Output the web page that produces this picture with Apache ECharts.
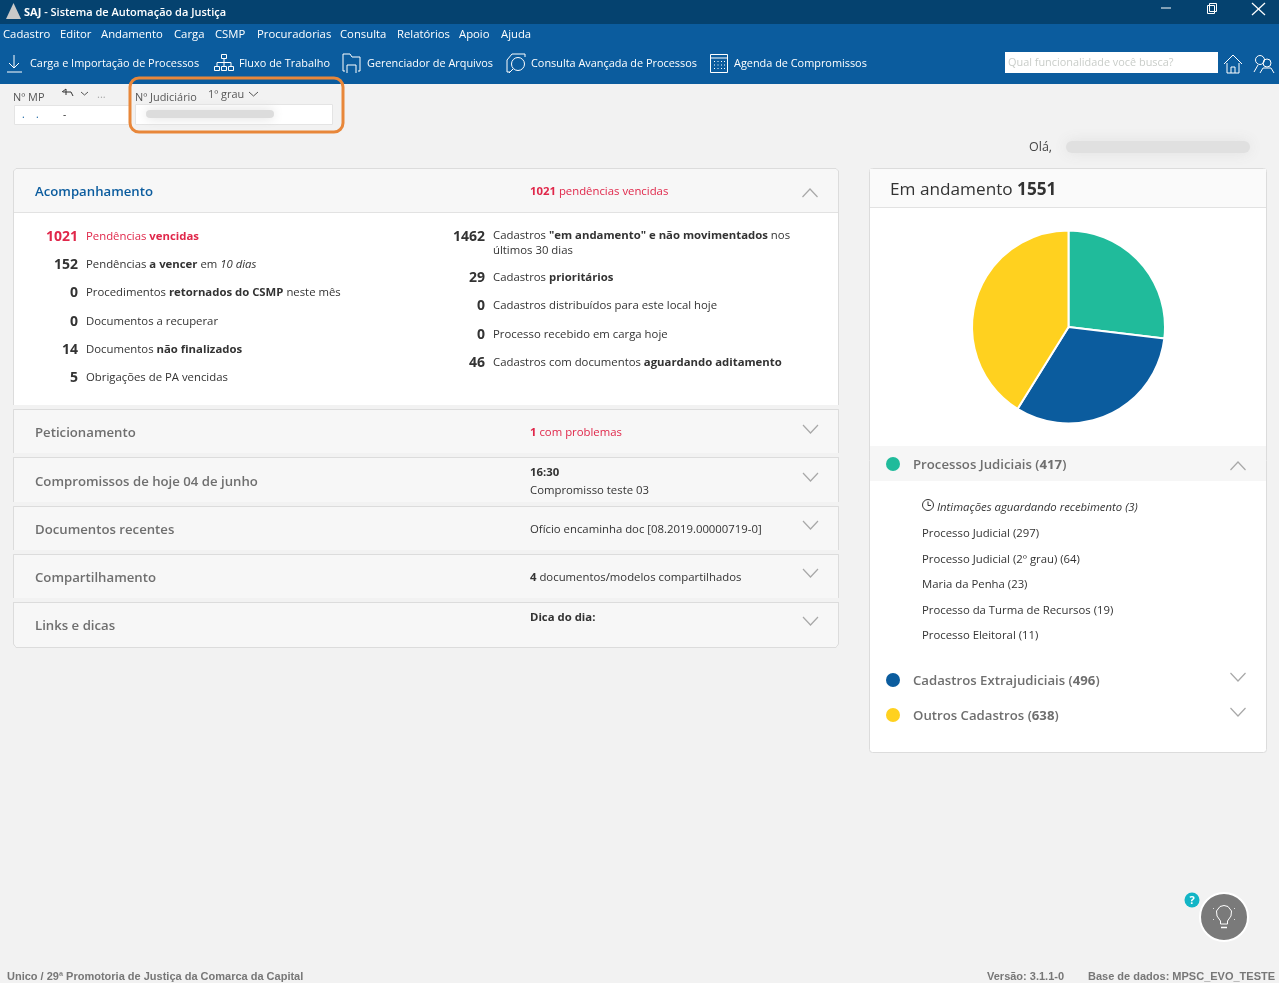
<!DOCTYPE html>
<html>
<head>
<meta charset="utf-8">
<title>SAJ</title>
<style>
  html, body { margin: 0; padding: 0; background: #f2f2f2; }
  #main { width: 1279px; height: 983px; }
</style>
<script src="https://cdn.jsdelivr.net/npm/echarts@6/dist/echarts.min.js"></script>
</head>
<body>
<div id="main"></div>
<script>
// dados do gráfico
const categories = ['Processos Judiciais', 'Cadastros Extrajudiciais', 'Outros Cadastros'];
const values = [417, 496, 638];
const colors = ['#20bb9b', '#0b5c9e', '#ffd11f'];

const menuItems = ['Cadastro', 'Editor', 'Andamento', 'Carga', 'CSMP', 'Procuradorias', 'Consulta', 'Relatórios', 'Apoio', 'Ajuda'];
const menuX = [3, 60, 101, 174, 215, 257, 340, 397, 459, 501];
const toolItems = ['Carga e Importação de Processos', 'Fluxo de Trabalho', 'Gerenciador de Arquivos', 'Consulta Avançada de Processos', 'Agenda de Compromissos'];
const toolX = [30, 239, 367, 531, 734];

const leftCounts = ['152', '0', '0', '14', '5'];
const leftLabels = ['Pendências {b|a vencer} em {i|10 dias}', 'Procedimentos {b|retornados do CSMP} neste mês', 'Documentos a recuperar', 'Documentos {b|não finalizados}', 'Obrigações de PA vencidas'];
const leftY = [264, 292, 321, 349, 377];

const rightCounts = ['29', '0', '0', '46'];
const rightLabels = ['Cadastros {b|prioritários}', 'Cadastros distribuídos para este local hoje', 'Processo recebido em carga hoje', 'Cadastros com documentos {b|aguardando aditamento}'];
const rightY = [277, 305, 334, 362];

const subItems = ['Processo Judicial (297)', 'Processo Judicial (2º grau) (64)', 'Maria da Penha (23)', 'Processo da Turma de Recursos (19)', 'Processo Eleitoral (11)'];
const subY = [533, 559, 584, 610, 635];

const FONT = '"Open Sans", "Noto Sans", sans-serif';
const DARK = '#333333';
const RED = '#e0274a';
const GREY = '#6f6f6f';
const BODY = 11.35;
const NUM = 14;

function text(x, y, str, size, fill, opts) {
  opts = opts || {};
  const weight = opts.weight || 'normal';
  const fam = opts.family || FONT;
  return {
    type: 'text', x: x, y: y, silent: true,
    style: {
      text: str,
      fill: fill,
      align: opts.align || 'left',
      verticalAlign: 'middle',
      font: (opts.italic ? 'italic ' : '') + weight + ' ' + size + 'px ' + fam,
      rich: {
        b: { font: 'bold ' + size + 'px ' + fam, fill: opts.richFill || fill },
        i: { font: 'italic normal ' + size + 'px ' + fam, fill: fill },
        n: { font: 'normal ' + size + 'px ' + fam, fill: fill }
      }
    }
  };
}
function box(x, y, w, h, fill, stroke, r) {
  return {
    type: 'rect', silent: true,
    shape: { x: x, y: y, width: w, height: h, r: r || 0 },
    style: { fill: fill, stroke: stroke || null, lineWidth: stroke ? 1 : 0 }
  };
}
function line(points, color, width) {
  return { type: 'polyline', silent: true, shape: { points: points }, style: { stroke: color, lineWidth: width || 1, fill: null } };
}
function dot(x, y, r, fill, stroke, width) {
  return { type: 'circle', silent: true, shape: { cx: x, cy: y, r: r }, style: { fill: fill, stroke: stroke || null, lineWidth: width || 0 } };
}
function blur(x, y, w, h, color, amount) {
  return { type: 'rect', silent: true, shape: { x: x, y: y, width: w, height: h, r: h / 2 },
    style: { fill: color, shadowColor: color, shadowBlur: amount || 14 } };
}
function chevron(x, y, up, color) {
  const d = up ? -1 : 1;
  return line([[x - 7.5, y - d * 4], [x, y + d * 4], [x + 7.5, y - d * 4]], color || '#a8a8a8', 1.2);
}

const g = [];

// barras do topo
g.push(box(0, 0, 1279, 24, '#05426f'));
g.push(box(0, 24, 1279, 60, '#0b5c9e'));
g.push({ type: 'polygon', silent: true, shape: { points: [[13.5, 3], [21, 19], [6, 19]] }, style: { fill: '#c9c9c9' } });
g.push(text(24, 12.5, '{b|SAJ} - Sistema de Automação da Justiça', 11, '#ffffff', { family: '"Open Sans", sans-serif', weight: '600' }));
g.push(line([[1161, 8], [1171, 8]], '#ffffff', 1));
g.push(box(1207.5, 5.5, 7, 8, null, '#ffffff'));
g.push(box(1209.5, 3.5, 7, 8, null, '#ffffff'));
g.push(line([[1252, 3], [1265, 15]], '#ffffff', 1.2));
g.push(line([[1265, 3], [1252, 15]], '#ffffff', 1.2));

menuItems.forEach(function (m, i) { g.push(text(menuX[i], 35, m, 11.3, '#ffffff')); });
toolItems.forEach(function (m, i) { g.push(text(toolX[i], 64, m, 10.9, '#ffffff')); });

// ícones da barra
g.push(line([[14, 55], [14, 68]], '#ffffff'), line([[9, 63], [14, 68], [19, 63]], '#ffffff'), line([[7, 72], [22, 72]], '#ffffff'));
g.push(box(221.5, 54.5, 5, 4, null, '#ffffff'), box(214.5, 66.5, 5, 4, null, '#ffffff'), box(221.5, 66.5, 5, 4, null, '#ffffff'), box(228.5, 66.5, 5, 4, null, '#ffffff'));
g.push(line([[224, 59], [224, 66]], '#ffffff'), line([[217, 66], [217, 62.5], [231, 62.5], [231, 66]], '#ffffff'));
g.push(line([[345, 71], [343, 71], [343, 54], [350, 54], [352, 57], [360, 57], [360, 71], [358, 71]], '#ffffff'), line([[347, 73], [347, 65], [356, 65], [356, 73]], '#ffffff'));
g.push(line([[510, 72], [507, 72], [507, 60], [512, 54], [525, 54], [525, 57]], '#ffffff'), dot(518, 64, 6.5, null, '#ffffff', 1), line([[513, 69], [509, 73]], '#ffffff'));
g.push(box(710.5, 54.5, 17, 18, null, '#ffffff'), line([[711, 58], [727, 58]], '#ffffff'));
[61, 64.5, 68].forEach(function (yy) { [714, 717.5, 721, 724].forEach(function (xx) { g.push(box(xx, yy, 1, 1, '#ffffff')); }); });
g.push(box(1005, 52, 213, 21, '#ffffff'));
g.push(text(1008, 63, 'Qual funcionalidade você busca?', 10.9, '#c9cdc9'));
g.push(line([[1224, 64], [1233, 55], [1242, 64]], '#ffffff'), line([[1227, 63], [1227, 73], [1239, 73], [1239, 63]], '#ffffff'), line([[1231, 73], [1231, 67], [1235, 67], [1235, 73]], '#ffffff'));
g.push(dot(1260, 60, 4.5, null, '#ffffff', 1), dot(1267, 63, 4, null, '#ffffff', 1), line([[1254, 72], [1258, 65]], '#ffffff'), line([[1260, 73], [1263, 68], [1271, 68], [1274, 73]], '#ffffff'));

// campos Nº MP / Nº Judiciário
g.push(text(13, 98, 'Nº MP', 10.9, '#555555'));
g.push(line([[62, 92], [66, 89], [66, 95]], DARK), line([[63, 92], [71, 92], [73, 96]], DARK));
g.push(line([[81, 92], [84.5, 95], [88, 92]], '#555555'));
g.push(text(97, 95, '...', 11, '#aaaaaa'));
g.push(box(14.5, 105.5, 115, 19, '#ffffff', '#e4e4e4'));
g.push(text(22, 115, '.', 10, '#0b5c9e'), text(36, 115, '.', 10, '#0b5c9e'), text(63, 115, '-', 10, DARK));
g.push(text(135, 98, 'Nº Judiciário', 10.9, '#555555'));
g.push(text(208, 95, '1º grau', 10.9, '#555555'));
g.push(line([[249, 92], [253.5, 96], [258, 92]], '#555555'));
g.push(box(135.5, 104.5, 197, 20, '#ffffff', '#e4e4e4'));
g.push(blur(146, 110, 128, 8, '#dcdcdc', 12));
g.push(box(130, 78, 213, 54, null, '#e8873a', 9));
g[g.length - 1].style.lineWidth = 3;

g.push(text(1029, 147, 'Olá,', 12.5, '#444444'));
g.push(blur(1066, 141, 184, 12, '#e0e0e0', 14));

// painel esquerdo
g.push(box(14, 169, 824, 236, '#ffffff'));
g.push(box(14, 169, 824, 43, '#f7f7f7'));
g.push(line([[13.5, 405], [13.5, 171], [16, 168.5], [836, 168.5], [838.5, 171], [838.5, 405]], '#dcdcdc'));
g.push(line([[14, 212.5], [838, 212.5]], '#e2e2e2'));
g.push(text(35, 192, 'Acompanhamento', 13.2, '#0b5c9e', { weight: '600' }));
g.push(text(530, 192, '{b|1021} pendências vencidas', BODY, RED));
g.push(chevron(810, 193, true));

g.push(text(78, 237, '1021', NUM, RED, { weight: 'bold', align: 'right' }));
g.push(text(86, 237, 'Pendências {b|vencidas}', BODY, RED));
leftCounts.forEach(function (c, i) {
  g.push(text(78, leftY[i] + 1, c, NUM, DARK, { weight: 'bold', align: 'right' }));
  g.push(text(86, leftY[i] + 1, leftLabels[i], BODY, DARK));
});

g.push(text(485, 237, '1462', NUM, DARK, { weight: 'bold', align: 'right' }));
g.push(text(493, 236, 'Cadastros {b|"em andamento" e não movimentados} nos', BODY, DARK));
g.push(text(493, 251, 'últimos 30 dias', BODY, DARK));
rightCounts.forEach(function (c, i) {
  g.push(text(485, rightY[i] + 1, c, NUM, DARK, { weight: 'bold', align: 'right' }));
  g.push(text(493, rightY[i] + 1, rightLabels[i], BODY, DARK));
});

// painéis recolhidos
const panelTop = [409, 457, 506, 554, 602];
const panelBottom = [453, 502, 550, 598, 647];
const panelTitles = ['Peticionamento', 'Compromissos de hoje 04 de junho', 'Documentos recentes', 'Compartilhamento', 'Links e dicas'];
const panelTitleY = [433, 482, 530, 578, 626];
panelTop.forEach(function (top, i) {
  const bottom = panelBottom[i];
  g.push(box(14, top, 824, bottom - top, '#f7f7f7'));
  if (i === panelTop.length - 1) {
    g.push(line([[13.5, top], [13.5, bottom - 3], [16, bottom + 0.5], [836, bottom + 0.5], [838.5, bottom - 3], [838.5, top]], '#dcdcdc'));
  } else {
    g.push(line([[13.5, bottom], [13.5, top + 0.5], [838.5, top + 0.5], [838.5, bottom]], '#dcdcdc'));
  }
  g.push(line([[13.5, top + 0.5], [838.5, top + 0.5]], '#dcdcdc'));
  g.push(text(35, panelTitleY[i], panelTitles[i], 13.2, GREY, { weight: '600' }));
});
g.push(text(530, 433, '{b|1} com problemas', BODY, RED));
g.push(text(530, 473, '16:30', BODY, DARK, { weight: 'bold' }));
g.push(text(530, 491, 'Compromisso teste 03', BODY, DARK));
g.push(text(530, 530, 'Ofício encaminha doc [08.2019.00000719-0]', BODY, DARK));
g.push(text(530, 578, '{b|4} documentos/modelos compartilhados', BODY, DARK));
g.push(text(530, 618, 'Dica do dia:', BODY, DARK, { weight: 'bold' }));
[429, 477, 525, 573, 621].forEach(function (y) { g.push(chevron(810.5, y, false)); });

// painel direito
g.push(box(869.5, 168.5, 397, 584, '#ffffff', '#dcdcdc', 3));
g.push(box(870, 169, 396, 38, '#fafafa'));
g.push(line([[870, 207.5], [1266, 207.5]], '#e2e2e2'));
g.push(text(890, 190, 'Em andamento {b|1551}', 17.2, DARK));
g.push(box(870, 446, 396, 35, '#f6f6f6'));

// legenda
const legendY = [464, 680, 715];
categories.forEach(function (name, i) {
  g.push(dot(893, legendY[i], 7, colors[i]));
  g.push(text(913, legendY[i] + 1, name + ' ({b|' + values[i] + '})', 13.2, GREY, { weight: '600' }));
});
g.push(chevron(1238, 466, true), chevron(1238, 677, false), chevron(1238, 712, false));

g.push(dot(928, 505, 5.5, null, DARK, 1), line([[928, 501.5], [928, 505.5], [931, 505.5]], DARK));
g.push(text(937, 508, 'Intimações aguardando recebimento (3)', BODY, DARK, { italic: true }));
subItems.forEach(function (s, i) { g.push(text(922, subY[i] + 1, s, BODY, DARK)); });

// botão de ajuda
g.push(dot(1224, 917, 24, '#7a7a7a', '#ffffff', 2));
g.push(line([[1220.5, 924], [1220.5, 921], [1217, 916], [1216.5, 911], [1220, 906.5], [1224, 905.5], [1228, 906.5], [1231.5, 911], [1231, 916], [1227.5, 921], [1227.5, 924], [1220.5, 924]], '#ffffff'));
g.push(line([[1221, 927.5], [1227, 927.5]], '#ffffff', 1.5));
g.push(box(1213, 908, 1, 1, '#dddddd'), box(1234, 908, 1, 1, '#dddddd'), box(1213, 919, 1, 1, '#dddddd'), box(1234, 919, 1, 1, '#dddddd'));
g.push(dot(1192, 900, 7.5, '#12b5c6'));
g.push(text(1192, 900.5, '?', 11, '#ffffff', { weight: 'bold', align: 'center' }));

// rodapé
const footFam = '"Liberation Sans", Arial, sans-serif';
g.push(text(7, 976.5, 'Unico / 29ª Promotoria de Justiça da Comarca da Capital', 11, '#777777', { weight: 'bold', family: footFam }));
g.push(text(987, 976.5, 'Versão: 3.1.1-0', 11, '#777777', { weight: 'bold', family: footFam }));
g.push(text(1088, 976.5, 'Base de dados: MPSC_EVO_TESTE', 11, '#777777', { weight: 'bold', family: footFam }));

const chart = echarts.init(document.getElementById('main'), null, { renderer: 'canvas' });
chart.setOption({
  backgroundColor: '#f2f2f2',
  animation: false,
  graphic: { elements: g },
  series: [{
    type: 'pie',
    center: [1068.5, 327],
    radius: 96.5,
    startAngle: 90,
    clockwise: true,
    silent: true,
    label: { show: false },
    labelLine: { show: false },
    itemStyle: { borderColor: '#ffffff', borderWidth: 2 },
    data: categories.map(function (name, i) {
      return { name: name, value: values[i], itemStyle: { color: colors[i] } };
    })
  }]
});
</script>
</body>
</html>
